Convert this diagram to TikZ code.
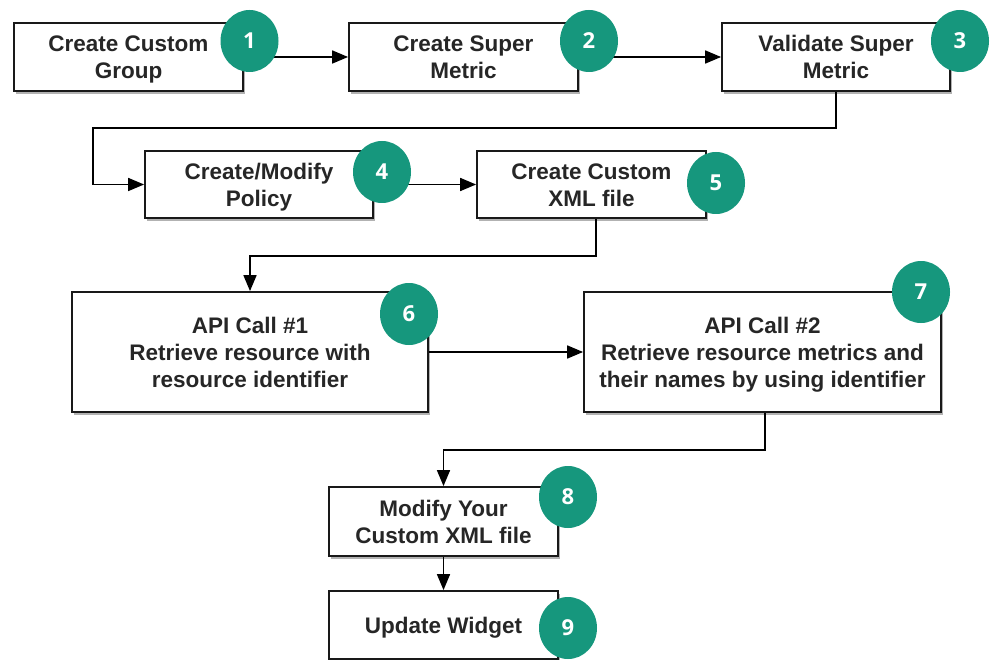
\documentclass[tikz,border=0pt]{standalone}
\usepackage{fontspec}
\setmainfont{Liberation Sans}
\newfontfamily\numfont{Open Sans}
\usetikzlibrary{arrows.meta,shadows,shapes.geometric}
\definecolor{teal}{HTML}{16977D}
\newcommand\boxlines[1]{\raisebox{-2.8pt}[\height][\depth]{\begin{tabular}{@{}c@{}}#1\end{tabular}}}
\begin{document}
\begin{tikzpicture}[x=1pt,y=-1pt,
  stepbox/.style={draw=black!90,line width=1.8pt,fill=white,
    inner sep=0pt,font=\bfseries\fontsize{22.5}{27}\selectfont,text=black!85,
    drop shadow={shadow xshift=2pt,shadow yshift=-3pt,opacity=0.3,fill=black}},
  badge/.style={ellipse,fill=teal,minimum width=58pt,minimum height=62pt,inner sep=0pt,
    text=white,font=\numfont\bfseries\fontsize{22}{22}\selectfont},
  arr/.style={line width=1.7pt,-{Triangle[length=16pt,width=13pt]}}]
\useasboundingbox (0,0) rectangle (992,660);
\fill[white] (0,0) rectangle (992,660);
\begin{scope}
\clip (0,0) rectangle (992,660);
% boxes
\node[stepbox,minimum width=229pt,minimum height=68pt] (b1) at (128.5,57) {\boxlines{Create Custom\\Group}};
\node[stepbox,minimum width=229pt,minimum height=68pt] (b2) at (463.5,57) {\boxlines{Create Super\\Metric}};
\node[stepbox,minimum width=228pt,minimum height=68pt] (b3) at (836,57) {\boxlines{Validate Super\\Metric}};
\node[stepbox,minimum width=228pt,minimum height=67pt] (b4) at (259,184.5) {\boxlines{Create/Modify\\Policy}};
\node[stepbox,minimum width=229pt,minimum height=67pt] (b5) at (591.5,184.5) {\boxlines{Create Custom\\XML file}};
\node[stepbox,minimum width=356pt,minimum height=120pt] (b6) at (250,352) {\boxlines{API Call \#1\\Retrieve resource with\\resource identifier}};
\node[stepbox,minimum width=357pt,minimum height=120pt] (b7) at (762.5,352) {\boxlines{API Call \#2\\Retrieve resource metrics and\\their names by using identifier}};
\node[stepbox,minimum width=229pt,minimum height=69pt] (b8) at (443.5,521.5) {\boxlines{Modify Your\\Custom XML file}};
\node[stepbox,minimum width=229pt,minimum height=68pt] (b9) at (443.5,625) {\boxlines{Update Widget}};
% connectors
\coordinate (k1) at (93,128);
\coordinate (k2) at (250,256);
\coordinate (k3) at (443.5,450);
\draw[arr] (b1.east) -- (b2.west);
\draw[arr] (b2.east) -- (b3.west);
\draw[arr] (b3.south) |- (k1) |- (b4.west);
\draw[arr] (b4.east) -- (b5.west);
\draw[arr] ([xshift=4.5pt]b5.south) |- (k2) -- (b6.north);
\draw[arr] (b6.east) -- (b7.west);
\draw[arr] ([xshift=2.5pt]b7.south) |- (k3) -- (b8.north);
\draw[arr] (b8.south) -- (b9.north);
% badges
\node[badge] (n1) at (249.5,41) {1};
\node[badge] (n2) at (589,41) {2};
\node[badge] (n3) at (960,41) {3};
\node[badge] (n4) at (382,172) {4};
\node[badge] (n5) at (716,183) {5};
\node[badge] (n6) at (409,314) {6};
\node[badge] (n7) at (921,292) {7};
\node[badge] (n8) at (568,497) {8};
\node[badge] (n9) at (568,628) {9};
\end{scope}
\end{tikzpicture}
\end{document}
